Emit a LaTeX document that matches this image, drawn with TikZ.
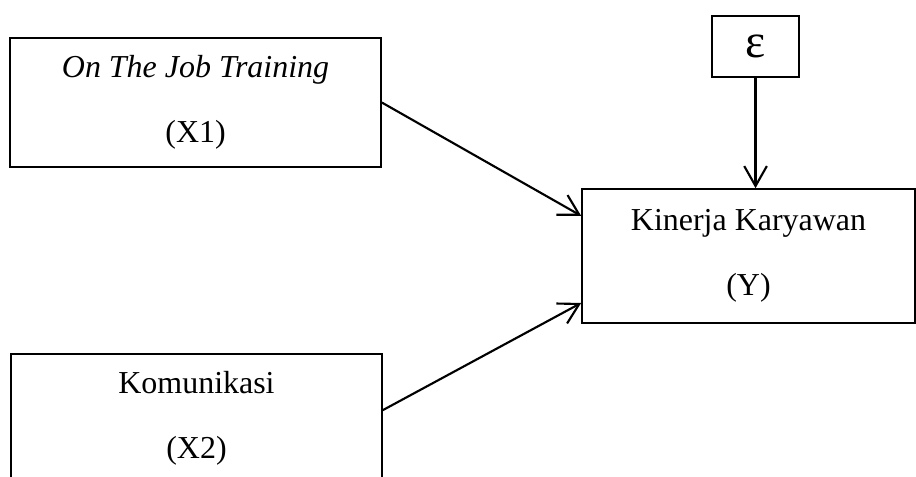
\documentclass[tikz,border=0pt]{standalone}
\usepackage{fontspec}
\setmainfont{Liberation Serif}
\usetikzlibrary{positioning,arrows.meta,calc}

\begin{document}
\begin{tikzpicture}[
    varbox/.style={draw, line width=0.6pt, align=center, inner sep=0pt,
                   font=\fontsize{12}{14}\selectfont},
    link/.style={line width=0.8pt, -{Straight Barb[length=7.5pt,width=8.5pt]}},
  ]
    \useasboundingbox (0,0) rectangle (12.091,-6.296);
    %
    \node[varbox, minimum width=4.897cm, minimum height=1.703cm] (X1) at (2.581,-1.353)
        {\textit{On The Job Training}\\[10.2pt](X1)};
    \node[varbox, minimum width=4.897cm, minimum height=1.703cm] (X2) at (2.594,-5.524)
        {Komunikasi\\[10.2pt](X2)};
    \node[varbox, minimum width=4.396cm, minimum height=1.769cm] (Y) at (9.880,-3.379)
        {Kinerja Karyawan\\[10.2pt](Y)};
    \node[varbox, minimum width=1.148cm, minimum height=0.805cm] (E) at (9.973,-0.614)
        {\fontsize{18}{20}\selectfont ε};
    %
    \draw[link] (X1.east) -- ([yshift=0.53cm]Y.west);
    \draw[link] ([yshift=0.11cm]X2.east) -- ([yshift=-0.62cm]Y.west);
    \draw[link] (E.south) -- (E.south |- Y.north);
\end{tikzpicture}
\end{document}
